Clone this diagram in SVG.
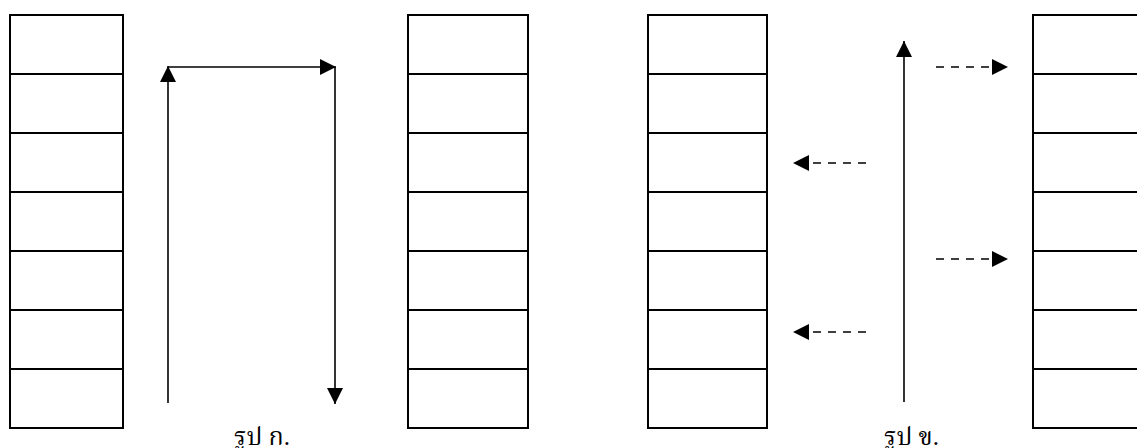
<svg xmlns="http://www.w3.org/2000/svg" width="1137" height="448" viewBox="0 0 1137 448">
<style>
.cell{fill:#fff;stroke:#000;stroke-width:2}
.arr{fill:none;stroke:#000;stroke-width:1.6}
.dash{fill:none;stroke:#000;stroke-width:1.6;stroke-dasharray:8 7}
.lbl{font-family:"Liberation Serif","Noto Serif Thai","Noto Sans Thai",serif;font-size:25px;fill:#000}
</style>
<defs>
<marker id="ah" markerUnits="userSpaceOnUse" markerWidth="16" markerHeight="16" refX="16" refY="8" orient="auto">
<path d="M0,0 L16,8 L0,16 Z" fill="#000"/>
</marker>
</defs>
<rect width="1137" height="448" fill="#fff"/>
<g id="stack1">
<rect class="cell" x="10" y="15" width="113" height="59"/>
<rect class="cell" x="10" y="74" width="113" height="59"/>
<rect class="cell" x="10" y="133" width="113" height="59"/>
<rect class="cell" x="10" y="192" width="113" height="59"/>
<rect class="cell" x="10" y="251" width="113" height="59"/>
<rect class="cell" x="10" y="310" width="113" height="59"/>
<rect class="cell" x="10" y="369" width="113" height="59"/>
</g>
<g id="stack2">
<rect class="cell" x="408" y="15" width="120" height="59"/>
<rect class="cell" x="408" y="74" width="120" height="59"/>
<rect class="cell" x="408" y="133" width="120" height="59"/>
<rect class="cell" x="408" y="192" width="120" height="59"/>
<rect class="cell" x="408" y="251" width="120" height="59"/>
<rect class="cell" x="408" y="310" width="120" height="59"/>
<rect class="cell" x="408" y="369" width="120" height="59"/>
</g>
<g id="stack3">
<rect class="cell" x="648" y="15" width="119" height="59"/>
<rect class="cell" x="648" y="74" width="119" height="59"/>
<rect class="cell" x="648" y="133" width="119" height="59"/>
<rect class="cell" x="648" y="192" width="119" height="59"/>
<rect class="cell" x="648" y="251" width="119" height="59"/>
<rect class="cell" x="648" y="310" width="119" height="59"/>
<rect class="cell" x="648" y="369" width="119" height="59"/>
</g>
<g id="stack4">
<rect class="cell" x="1033" y="15" width="120" height="59"/>
<rect class="cell" x="1033" y="74" width="120" height="59"/>
<rect class="cell" x="1033" y="133" width="120" height="59"/>
<rect class="cell" x="1033" y="192" width="120" height="59"/>
<rect class="cell" x="1033" y="251" width="120" height="59"/>
<rect class="cell" x="1033" y="310" width="120" height="59"/>
<rect class="cell" x="1033" y="369" width="120" height="59"/>
</g>
<g id="connectors">
<line class="arr" x1="168" y1="403" x2="168" y2="66" marker-end="url(#ah)"/>
<line class="arr" x1="168" y1="67" x2="336" y2="67" marker-end="url(#ah)"/>
<line class="arr" x1="335" y1="67" x2="335" y2="404" marker-end="url(#ah)"/>
<line class="arr" x1="904" y1="402" x2="904" y2="41" marker-end="url(#ah)"/>
<line class="dash" x1="936" y1="67" x2="990" y2="67"/>
<path d="M992,59 L1008,67 L992,75 Z" fill="#000"/>
<line class="dash" x1="936" y1="259" x2="990" y2="259"/>
<path d="M992,251 L1008,259 L992,267 Z" fill="#000"/>
<line class="dash" x1="866" y1="163" x2="811" y2="163"/>
<path d="M809,155 L793,163 L809,171 Z" fill="#000"/>
<line class="dash" x1="866" y1="332" x2="811" y2="332"/>
<path d="M809,324 L793,332 L809,340 Z" fill="#000"/>
</g>
<g id="labels">
<text class="lbl" x="234" y="445">รูป ก.</text>
<text class="lbl" x="884" y="445">รูป ข.</text>
</g>
</svg>
